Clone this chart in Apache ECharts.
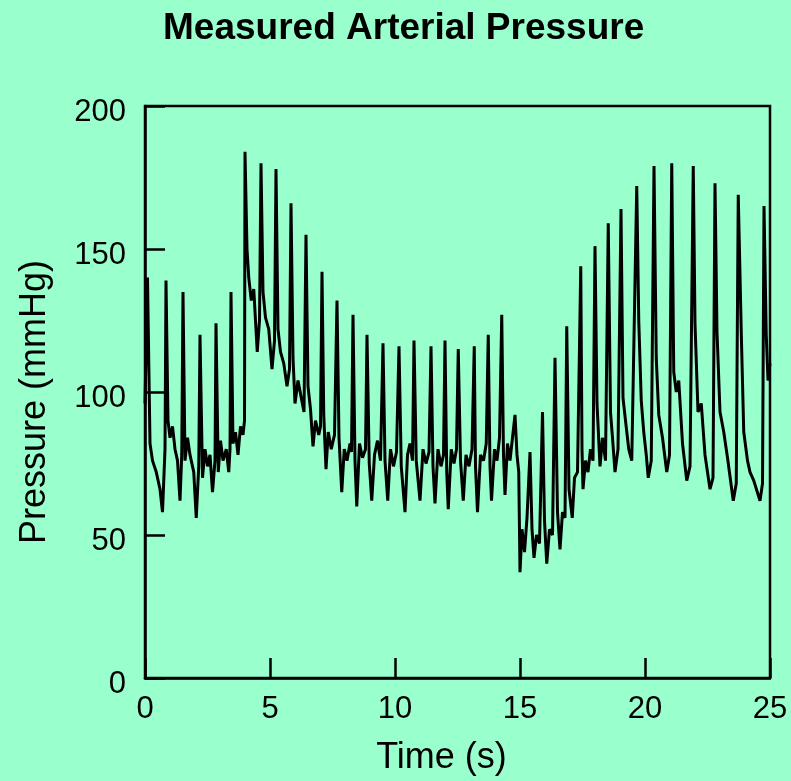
<!DOCTYPE html>
<html>
<head>
<meta charset="utf-8">
<script src="https://cdn.jsdelivr.net/npm/echarts@6/dist/echarts.min.js"></script>
<style>
  html, body { margin: 0; padding: 0; background: #99FFCC; }
  #chart { width: 791px; height: 781px; }
</style>
</head>
<body>
<div id="chart"></div>
<script>
// Time (s) / pressure (mmHg) pairs, by phase
const baselinePhase = [
  [0,96],[0.1,140],[0.2,82],[0.3,76],[0.45,72],[0.6,66],[0.7,58],[0.8,80],[0.84,139],[0.92,90],
  [1.0,84],[1.1,88],[1.2,80],[1.3,76],[1.4,62],[1.47,78],[1.52,135],[1.6,76],[1.7,84],[1.8,78],
  [1.95,72],[2.05,56],[2.15,74],[2.2,120],[2.3,70],[2.4,80],[2.5,74],[2.6,78],[2.7,65],[2.8,76],
  [2.84,124],[2.93,72],[3.02,83],[3.12,76],[3.25,80],[3.35,72],[3.4,80],[3.44,135],[3.52,82],
  [3.62,86],[3.72,78],[3.82,88],[3.92,85],[3.98,90],[4.0,184]
];
const stepPhase = [
  [4.08,150],[4.15,140],[4.25,132],[4.35,136],[4.49,114],[4.58,125],[4.64,180],[4.72,135],[4.82,126],
  [4.95,122],[5.08,108],[5.18,118],[5.24,178],[5.32,122],[5.42,114],[5.55,110],[5.68,102],[5.78,108],
  [5.84,166],[5.92,112],[6.0,96],[6.12,104],[6.25,98],[6.36,93],[6.44,155],[6.52,102],[6.62,94],
  [6.72,81],[6.82,90],[6.95,85],[7.02,88],[7.08,142],[7.15,92],[7.24,73],[7.33,86],[7.45,80],
  [7.58,85],[7.68,132],[7.76,84],[7.87,65],[7.97,80],[8.08,76],[8.2,82],[8.26,79]
];
const plateauPhase = [
  [8.32,127],[8.4,76],[8.47,60],[8.58,82],[8.7,77],[8.82,80],[8.88,120],[8.97,75],[9.07,62],
  [9.18,78],[9.3,83],[9.42,76],[9.52,117],[9.6,76],[9.71,62],[9.82,80],[9.94,74],[10.06,79],
  [10.16,116],[10.25,74],[10.4,58],[10.5,78],[10.6,82],[10.7,76],[10.76,118],[10.85,76],[11.0,62],
  [11.12,80],[11.24,75],[11.36,79],[11.44,116],[11.52,74],[11.6,61],[11.72,80],[11.84,74],[11.94,78],
  [12.0,118],[12.07,72],[12.13,59],[12.25,80],[12.36,75],[12.46,80],[12.53,115],[12.62,76],[12.73,62],
  [12.84,78],[12.96,74],[13.08,80],[13.17,116],[13.22,74],[13.3,58],[13.42,78],[13.54,76],[13.65,82],
  [13.73,120],[13.8,74],[13.86,62],[13.98,80],[14.08,76],[14.18,84],[14.27,127],[14.34,78],[14.4,64],
  [14.5,82],[14.6,76],[14.7,84],[14.8,92],[14.88,78],[14.95,72]
];
const dropPhase = [
  [15.0,37],[15.08,52],[15.18,44],[15.28,56],[15.4,79],[15.48,52],[15.56,42],[15.66,50],[15.78,47],
  [15.9,93],[15.98,55],[16.07,40],[16.18,52],[16.3,50],[16.4,112],[16.5,58],[16.6,45],[16.7,58],
  [16.8,56],[16.87,123],[16.96,66],[17.09,56],[17.18,70],[17.3,72],[17.43,144],[17.48,80],[17.52,66],
  [17.62,76],[17.72,72],[17.82,80],[17.92,76]
];
const recoveryPhase = [
  [18.0,151],[18.08,96],[18.2,74],[18.3,84],[18.42,76],[18.53,159],[18.62,93],[18.7,84],[18.8,72],
  [18.92,80],[19.04,164],[19.12,98],[19.22,90],[19.35,80],[19.47,76],[19.67,172],[19.75,125],[19.85,97],
  [19.95,86],[20.05,78],[20.13,70],[20.25,76],[20.36,179],[20.45,112],[20.55,92],[20.7,84],[20.87,72],
  [20.98,78],[21.07,180],[21.15,107],[21.25,100],[21.35,104],[21.5,82],[21.67,69],[21.8,74],[21.93,179],
  [22.0,124],[22.12,93],[22.25,96],[22.4,78],[22.6,66],[22.72,70],[22.8,173],[22.88,121],[23.0,93],
  [23.15,86],[23.3,77],[23.53,62],[23.65,68],[23.73,169],[23.85,121],[23.95,86],[24.1,76],[24.2,72],
  [24.35,69],[24.6,62],[24.7,68],[24.76,165],[24.85,120],[24.92,104],[25,110]
];
const xTicks = [0, 5, 10, 15, 20, 25];
const yTicks = [0, 50, 100, 150, 200];

const trace = [].concat(baselinePhase, stepPhase, plateauPhase, dropPhase, recoveryPhase);
const FONT = "'Liberation Sans', Arial, Helvetica, sans-serif";

const chart = echarts.init(document.getElementById('chart'), null, { renderer: 'canvas' });
chart.setOption({
  backgroundColor: '#99FFCC',
  animation: false,
  title: {
    text: 'Measured Arterial Pressure',
    left: 158,
    top: 5,
    textStyle: { fontFamily: FONT, fontWeight: 'bold', fontSize: 37, color: '#000' }
  },
  grid: {
    left: 145, right: 21, top: 106, bottom: 103,
    show: true, borderColor: '#000', borderWidth: 2.5, backgroundColor: 'transparent'
  },
  xAxis: {
    type: 'value',
    min: xTicks[0], max: xTicks[xTicks.length - 1], interval: 5,
    name: 'Time (s)', nameLocation: 'middle', nameGap: 62,
    nameTextStyle: { fontFamily: FONT, fontSize: 36, color: '#000', padding: [0, 32, 0, 0] },
    axisLine: { show: true, lineStyle: { color: '#000', width: 2.5 } },
    axisTick: { show: true, inside: true, length: 20, lineStyle: { color: '#000', width: 2.5 } },
    axisLabel: { fontFamily: FONT, fontSize: 31, color: '#000', margin: 16 },
    splitLine: { show: false }
  },
  yAxis: {
    type: 'value',
    min: yTicks[0], max: yTicks[yTicks.length - 1], interval: 50,
    name: 'Pressure (mmHg)', nameLocation: 'middle', nameGap: 92,
    nameTextStyle: { fontFamily: FONT, fontSize: 36, color: '#000', padding: [0, 20, 0, 0] },
    axisLine: { show: true, lineStyle: { color: '#000', width: 2.5 } },
    axisTick: { show: true, inside: true, length: 20, lineStyle: { color: '#000', width: 2.5 } },
    axisLabel: { fontFamily: FONT, fontSize: 31, color: '#000', margin: 19, verticalAlign: 'top', lineHeight: 13 },
    splitLine: { show: false }
  },
  series: [{
    type: 'line',
    data: trace,
    showSymbol: false,
    symbol: 'none',
    lineStyle: { color: '#000', width: 3 },
    z: 1
  }]
});
</script>
</body>
</html>
